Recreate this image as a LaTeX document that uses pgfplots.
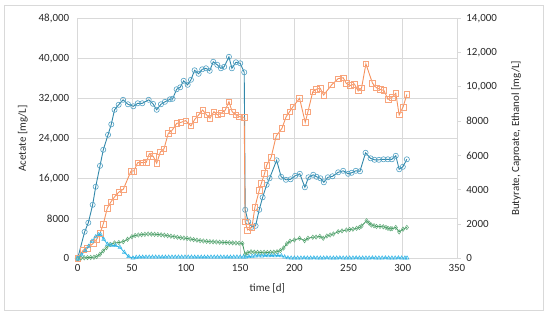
\documentclass[border=0pt]{standalone}
\usepackage{pgfplots}
\pgfplotsset{compat=1.18}
\usepackage{fontspec}
\setmainfont{Carlito}
\definecolor{gridgray}{RGB}{217,217,217}
\definecolor{txt}{RGB}{40,40,40}
\definecolor{cBlue}{RGB}{50,136,170}
\definecolor{cBlueM}{RGB}{80,160,195}
\definecolor{cOrange}{RGB}{246,146,94}
\definecolor{cOrangeM}{RGB}{248,165,125}
\definecolor{cGreen}{RGB}{66,152,96}
\definecolor{cGreenM}{RGB}{95,170,120}
\definecolor{cCyan}{RGB}{48,180,230}
\pgfplotsset{
  every tick label/.append style={font=\fontsize{11}{13}\selectfont, text=txt},
  /pgf/number format/assume math mode=true,
  /pgf/number format/1000 sep={,},
  /pgf/number format/min exponent for 1000 sep=4,
}
\begin{document}
\begin{tikzpicture}[x=1bp,y=1bp]
\useasboundingbox (0,0) rectangle (550,324);
\draw[gridgray, line width=0.8bp] (4,13.3) rectangle (543.3,319);
\begin{axis}[
  at={(77.7bp,65.7bp)}, anchor=south west,
  scale only axis, width=379.2bp, height=240bp,
  xmin=0, xmax=350, ymin=0, ymax=48000,
  xtick={0,50,...,350}, ytick={0,8000,...,48000},
  scaled y ticks=false,
  grid=major, grid style={gridgray, line width=0.7bp},
  axis x line*=bottom, axis y line*=left,
  axis line style={gridgray, line width=0.8bp},
  major tick length=0pt,
  xticklabel style={yshift=-3bp},
  yticklabel style={xshift=-5bp},
  xlabel={time [d]},
  xlabel style={at={(axis description cs:0.5,-0.125)}, anchor=center, font=\fontsize{11}{13}\selectfont, text=txt},
  ylabel={Acetate [mg/L]},
  ylabel style={at={(axis description cs:-0.1443,0.5)}, anchor=center, font=\fontsize{11}{13}\selectfont, text=txt},
  clip=false,
]
\addplot[cBlue, line width=0.9bp, mark=o, mark size=2.6bp, mark options={draw=cBlueM, fill=white, solid, line width=0.6bp}] coordinates {
(0,0) (6.4,5300) (9.8,7100) (13.8,10700) (16.6,14300) (20.6,18500) (23.6,21700) (28,24700)
(31,26800) (34,29700) (37.8,30700) (41.9,31700) (46.4,30800) (51.3,30400) (55.4,31000)
(59.6,31000) (65.5,31700) (69.5,30900) (72.9,29700) (76.8,30800) (80.5,31300) (85.1,31800)
(87.6,31900) (91.3,33800) (94.6,34200) (97.8,35500) (101.5,34700) (104.5,35700) (107.9,37600)
(111.6,36900) (114.9,37800) (118.4,38000) (121.8,37500) (125.1,39300) (128.8,38700)
(132.2,38000) (135.2,38300) (139.6,40300) (142.3,38000) (146,39200) (150,39000) (153.7,37200)
(154.6,9700) (157.4,7300) (160.8,6300) (164.2,6500) (167.5,9700) (170.7,12200) (174.4,14700)
(177.1,16000) (183.6,19600) (187.8,16300) (192.2,15700) (196.5,15800) (200.7,16500)
(205,16900) (209.7,14200) (213,16200) (217.4,16700) (220.5,16300) (224,16000) (227.2,15200)
(230.9,16200) (235.2,16400) (240.4,17200) (245,17500) (249.6,16900) (252.8,17100)
(256.7,17500) (260.5,17400) (265.7,21100) (270.3,20000) (274,19700) (278,19700)
(282.3,19800) (286.3,19800) (290,19800) (293.6,20500) (296.7,17800) (300.1,18300) (303.8,19800)
};
\end{axis}
\begin{axis}[
  at={(77.7bp,65.7bp)}, anchor=south west,
  scale only axis, width=379.2bp, height=240bp,
  xmin=0, xmax=350, ymin=0, ymax=14000,
  ytick={0,2000,...,14000},
  scaled y ticks=false,
  hide x axis,
  axis y line*=right,
  axis line style={gridgray, line width=0.8bp},
  tick style={gridgray, line width=0.8bp},
  major tick length=4bp, tick align=outside,
  yticklabel style={xshift=2bp},
  ylabel={Butyrate, Caproate, Ethanol [mg/L]},
  ylabel style={at={(axis description cs:1.1559,0.5)}, anchor=center, font=\fontsize{11}{13}\selectfont, text=txt},
  clip=false,
]
\addplot[cOrange, line width=0.9bp, mark=square, mark size=2.8bp, mark options={draw=cOrangeM, fill=white, solid, line width=0.6bp}] coordinates {
(0,0) (5.2,485) (8.9,585) (14.4,875) (17.5,1110) (20.6,1460) (23.6,2000) (27.3,2920) (30.7,3300)
(34.1,3590) (37.8,3850) (42.1,4030) (49.2,5090) (51.7,5090) (55.4,5580) (59.6,5580) (63.3,5600)
(66.1,6100) (69.7,5950) (72.9,5550) (76.4,6220) (79.6,6380) (83.6,7290) (87.3,7480) (91.3,7870)
(95.3,7930) (99.6,8030) (104.5,7720) (108,8100) (111.9,8380) (115.3,8650) (119,8360) (122,8170)
(125.7,8550) (129.2,8360) (132.5,8460) (136.2,8650) (139.6,9135) (142.6,8550) (146,8360)
(149.1,8260) (153.7,8225) (154.5,2135) (156.8,1650) (160.8,1810) (163.6,2990) (167.5,3950)
(169.5,4375) (172.5,4950) (174.5,5440) (178.5,5880) (183.2,7130) (188.5,7580) (192.4,8260)
(195.6,8550) (198.6,8840) (204.8,9330) (210,7930) (212.5,8550) (217,9720) (220.1,9860)
(223.8,9920) (227,9525) (234.3,10110) (240.4,10480) (245,10535) (248,10195) (251.7,10080)
(255.4,10165) (258.9,9760) (262,9935) (266,11340) (272.1,10210) (275.8,9945) (279.3,9846)
(282.6,9790) (286.4,9275) (290.1,9390) (293.6,9625) (296.7,8360) (300.3,8825) (303.8,9555)
};
\addplot[cGreen, line width=0.8bp, mark=diamond, mark size=2.2bp, mark options={draw=cGreenM, fill=white, solid, line width=0.5bp}] coordinates {
(0,0) (3,20) (6,30) (9,40) (12,50) (15,60) (17.5,100) (20.5,230) (23.5,430) (26.5,620) (30,810)
(34,900) (38,920) (42,970) (46,1110) (50,1260) (53,1330) (56,1360) (59,1380) (62,1400) (65,1420)
(68,1410) (71,1400) (74,1390) (77,1370) (80,1350) (83,1320) (86,1290) (89,1260) (92,1230)
(95,1200) (98,1180) (101,1160) (104,1120) (107,1090) (110,1060) (113,1030) (116,1010) (119,990)
(122,970) (125,960) (128,950) (131,940) (134,930) (137,920) (140,910) (143,900) (146,890)
(149,880) (152,870) (154.5,230) (157,330) (160,380) (163,360) (166,350) (169,340) (172,350)
(175,340) (178,350) (181,360) (184,380) (187,450) (190,600) (193,850) (196,1000) (200,1070)
(204.8,1170) (209.4,1030) (212.5,1170) (217,1230) (220,1240) (223.5,1280) (226.6,1170)
(230,1300) (233,1360) (236,1420) (240.4,1550) (244,1600) (248,1650) (251,1680) (254,1700)
(257.4,1750) (260,1800) (262,1880) (266.6,2190) (269,2050) (271,1940) (273.5,1900) (275.8,1860)
(279,1860) (282,1840) (284.5,1800) (286.4,1750) (288.5,1720) (290.1,1730) (293.6,1800)
(296.7,1540) (300.3,1700) (303.8,1800)
};
\addplot[cCyan, line width=0.8bp, mark=triangle, mark size=2.2bp, mark options={fill=white, solid, line width=0.5bp}] coordinates {
(0,0) (3.5,200) (7,450) (10,700) (13.2,1000) (16.5,1250) (19,1380) (21,1400) (24,1110)
(27.5,820) (31,760) (35,740) (39,640) (43,350) (47,100) (51,20) (54,60) (57,70) (60,70) (63,70)
(66,75) (69,75) (72,75) (75,70) (78,70) (81,70) (84,75) (87,75) (90,75) (93,75) (96,75) (99,75)
(102,75) (105,75) (108,70) (111,70) (114,70) (117,70) (120,70) (123,75) (126,75) (129,75)
(132,75) (135,70) (138,70) (141,70) (144,75) (147,80) (150,80) (153,80) (155,70) (158,100)
(161,120) (164,140) (167,150) (170,140) (173,160) (176,150) (179,160) (182,150) (185,170)
(188,150) (191,80) (194,30) (197,20) (200,20) (203,20) (206,20) (209,25) (212,20) (215,20)
(218,25) (221,20) (224,20) (227,20) (230,25) (233,20) (236,20) (239,20) (242,25) (245,20)
(248,20) (251,20) (254,20) (257,25) (260,20) (263,20) (266,20) (269,20) (272,25) (275,20)
(278,20) (281,20) (284,25) (287,20) (290,20) (293,20) (296,25) (299,20) (302,20) (304,20)
};
\end{axis}
\end{tikzpicture}
\end{document}
